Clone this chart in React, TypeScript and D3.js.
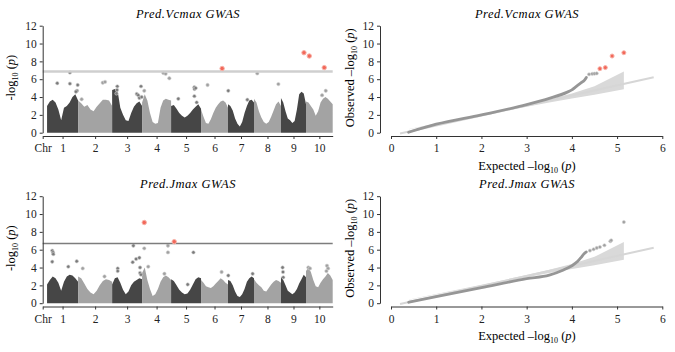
"use client"

import { useEffect, useRef } from "react"
import * as d3 from "d3"

const chromosomes = ["1", "2", "3", "4", "5", "6", "7", "8", "9", "10"]
const chromLength = [228, 250, 220, 213, 220, 198, 191, 198, 184, 196]
const chromOffset = 32

// top of the dense SNP cloud, 12 evenly spaced readings per chromosome
const vcmaxCloud = [
  [3.0, 3.5, 3.7, 3.4, 2.6, 1.4, 2.8, 3.0, 3.4, 4.0, 4.3, 3.6],
  [3.6, 3.3, 2.9, 3.1, 2.6, 2.4, 2.9, 3.3, 3.7, 3.7, 3.6, 3.0],
  [4.8, 4.9, 4.7, 2.8, 2.0, 1.4, 1.3, 2.2, 2.9, 3.3, 3.5, 3.0],
  [3.4, 4.3, 3.6, 2.2, 1.2, 1.0, 1.1, 2.8, 3.6, 3.8, 3.7, 3.6],
  [3.0, 3.1, 2.7, 2.2, 1.9, 1.7, 1.9, 2.2, 2.6, 2.9, 3.2, 2.7],
  [2.6, 1.8, 1.1, 1.0, 1.5, 2.2, 2.8, 3.2, 3.5, 3.6, 3.4, 2.8],
  [3.2, 3.0, 2.5, 1.6, 1.0, 0.7, 1.2, 2.2, 3.0, 3.6, 3.7, 3.4],
  [3.8, 3.4, 2.4, 1.7, 1.2, 1.0, 1.2, 1.8, 2.5, 3.2, 3.5, 3.0],
  [3.9, 3.4, 2.4, 1.6, 1.4, 1.1, 1.3, 2.6, 4.3, 4.6, 4.4, 3.2],
  [3.5, 3.4, 3.0, 2.6, 1.9, 2.4, 3.4, 3.8, 4.0, 3.8, 3.5, 3.2],
]

const jmaxCloud = [
  [2.1, 2.6, 3.0, 2.8, 2.3, 1.4, 2.4, 3.0, 3.2, 3.1, 2.8, 2.4],
  [3.0, 2.8, 2.2, 1.6, 1.2, 1.0, 1.4, 2.0, 2.5, 2.7, 2.6, 2.4],
  [2.1, 2.8, 2.9, 2.3, 1.5, 1.0, 1.3, 2.0, 2.4, 2.6, 2.8, 2.7],
  [3.4, 4.0, 2.6, 1.6, 0.8, 1.0, 1.6, 2.4, 2.9, 3.1, 2.9, 2.6],
  [2.7, 2.5, 2.0, 1.5, 1.2, 1.0, 1.1, 1.5, 2.1, 2.7, 2.9, 2.8],
  [2.6, 2.3, 1.9, 1.8, 1.7, 1.9, 2.2, 2.5, 2.8, 2.6, 2.3, 2.1],
  [2.6, 2.5, 2.0, 1.3, 0.8, 0.7, 1.0, 1.6, 2.4, 2.8, 3.0, 2.8],
  [2.7, 2.3, 2.0, 1.8, 1.4, 1.3, 1.7, 2.1, 2.4, 2.6, 2.5, 2.3],
  [3.0, 2.6, 2.0, 1.4, 1.2, 1.0, 1.2, 1.6, 2.2, 2.7, 3.2, 2.9],
  [3.6, 4.0, 3.5, 2.6, 1.9, 1.8, 2.3, 2.7, 3.0, 3.4, 3.1, 2.6],
]

// [chromosome, position (Mb), -log10 p]
const vcmaxPoints = [
  [1, 75, 5.55], [1, 168, 6.75], [1, 168, 5.5], [1, 225, 5.35], [1, 220, 4.7], [1, 212, 4.6],
  [2, 26, 3.75], [2, 181, 5.6], [2, 198, 5.7],
  [3, 38, 5.2], [3, 36, 4.8], [3, 32, 4.4], [3, 181, 4.35], [3, 192, 4.2], [3, 200, 3.9], [3, 212, 5.2], [3, 217, 4.0],
  [4, 16, 4.7], [4, 156, 6.7], [4, 173, 6.6], [4, 200, 6.1],
  [5, 53, 3.8], [5, 171, 5.1], [5, 172, 4.9], [5, 181, 5.0], [5, 171, 4.1], [5, 188, 3.4],
  [6, 48, 5.35],
  [7, 2, 4.7], [7, 142, 3.7],
  [8, 24, 6.65], [8, 179, 5.45],
  [10, 145, 4.7], [10, 118, 4.2],
]
const vcmaxHits = [[6, 155, 7.2], [9, 169, 8.97], [10, 24, 8.6], [10, 134, 7.3]]

const jmaxPoints = [
  [1, 38, 5.9], [1, 44, 5.7], [1, 46, 5.5], [1, 38, 4.65], [1, 156, 4.1], [1, 218, 4.7],
  [2, 34, 3.9], [2, 194, 3.0],
  [3, 41, 3.9], [3, 41, 3.6], [3, 156, 6.45], [3, 151, 4.6], [3, 176, 4.95], [3, 200, 5.1], [3, 205, 4.0], [3, 205, 3.4], [3, 212, 3.2],
  [4, 16, 6.15], [4, 45, 4.1], [4, 190, 6.45], [4, 190, 5.7], [4, 164, 3.3],
  [5, 164, 5.7], [5, 122, 2.1],
  [6, 151, 3.5],
  [7, 2, 3.1], [7, 181, 3.3],
  [9, 12, 4.0], [9, 15, 3.5], [9, 17, 2.9],
  [10, 17, 4.0], [10, 29, 3.9], [10, 154, 4.2], [10, 162, 3.9], [10, 150, 3.6],
]
const jmaxHits = [[4, 16, 9.05], [5, 23, 6.9]]

const vcmaxThreshold = 6.85
const jmaxThreshold = 6.7

// QQ plots: [expected, observed]
const qqLine = [[0.2, -0.1], [5.81, 6.22]]
const bandExpected = [0.4, 1, 2, 3, 3.5, 4, 4.5, 5.15]
const bandLower = [0.38, 0.97, 1.95, 2.92, 3.38, 3.83, 4.25, 4.87]
const bandUpper = [0.42, 1.04, 2.08, 3.15, 3.75, 4.4, 5.2, 6.85]

const vcmaxTrail = [[0.39, 0.05], [1, 0.95], [2, 2.0], [3, 3.15], [3.5, 3.85], [3.9, 4.55], [4.0, 4.8], [4.1, 5.2], [4.2, 5.6], [4.28, 5.9], [4.32, 6.2]]
const vcmaxTail = [[4.38, 6.55], [4.45, 6.6], [4.5, 6.62], [4.55, 6.65]]
const vcmaxTailHits = [[4.62, 7.18], [4.74, 7.3], [4.89, 8.6], [5.15, 8.97]]

const jmaxTrail = [[0.39, 0.1], [1, 0.75], [2, 1.75], [3, 2.75], [3.5, 3.15], [3.8, 3.7], [4.0, 4.2], [4.13, 4.7], [4.2, 5.1], [4.27, 5.55], [4.32, 5.75]]
const jmaxTail = [[4.4, 5.9], [4.48, 6.05], [4.55, 6.2], [4.62, 6.3], [4.72, 6.5], [4.85, 6.95], [4.87, 7.05], [5.15, 9.1]]
const jmaxTailHits = []

const FONT = "Liberation Serif"
const DARK = "#464646"
const LIGHT = "#a3a3a3"
const RED = "#f2685a"

function addLogLabel(text, prefix) {
  text.append("tspan").text(prefix + "log")
  text.append("tspan").attr("font-size", "8px").attr("dy", 3).text("10")
  text.append("tspan").attr("dy", -3).text(" (")
  text.append("tspan").attr("font-style", "italic").text("p")
  text.append("tspan").text(")")
}

function styleAxis(g) {
  g.attr("font-family", FONT).attr("font-size", 11)
  g.selectAll("path").attr("stroke", "#333")
  g.selectAll("line").attr("stroke", "#333")
  g.selectAll("text").attr("font-family", FONT).attr("font-size", "11.5px").attr("fill", "#222")
}

function drawTitle(svg, cx, y, title) {
  svg.append("text")
    .attr("x", cx)
    .attr("y", y)
    .attr("text-anchor", "middle")
    .attr("font-family", FONT)
    .attr("font-style", "italic")
    .attr("font-size", "12.5px")
    .attr("letter-spacing", "0.5px")
    .text(title)
}

function drawManhattan(svg, top, title, cloud, points, hits, threshold, lineColor, lineWidth) {
  const total = chromOffset + d3.sum(chromLength)
  const starts = chromLength.map((_, i) => chromOffset + d3.sum(chromLength.slice(0, i)))
  const x = d3.scaleLinear().domain([0, total]).range([42.7, 332.7])
  const y = d3.scaleLinear().domain([0, 12]).range([top + 107, top])
  const g = svg.append("g")

  const area = d3.area()
    .x((d) => x(d[0]))
    .y0(y(0))
    .y1((d) => y(d[1]))

  cloud.forEach((vals, i) => {
    const pts = vals.map((v, j) => [starts[i] + (j / (vals.length - 1)) * chromLength[i], v])
    g.append("path")
      .attr("d", area(pts))
      .attr("fill", i % 2 === 0 ? DARK : LIGHT)
  })

  g.selectAll(".pt")
    .data(points)
    .enter()
    .append("circle")
    .attr("cx", (d) => x(starts[d[0] - 1] + d[1]))
    .attr("cy", (d) => y(d[2]))
    .attr("r", 1.7)
    .attr("fill", (d) => (d[0] % 2 === 1 ? "#7a7a7a" : "#a0a0a0"))
    .attr("stroke", "#d0d0d0")
    .attr("stroke-width", 0.6)

  g.append("line")
    .attr("x1", x(0))
    .attr("x2", x(total))
    .attr("y1", y(threshold))
    .attr("y2", y(threshold))
    .attr("stroke", lineColor)
    .attr("stroke-width", lineWidth)

  g.selectAll(".hit")
    .data(hits)
    .enter()
    .append("circle")
    .attr("cx", (d) => x(starts[d[0] - 1] + d[1]))
    .attr("cy", (d) => y(d[2]))
    .attr("r", 2.2)
    .attr("fill", RED)
    .attr("stroke", "#f8b2a8")
    .attr("stroke-width", 1)

  const centers = starts.map((s, i) => s + chromLength[i] / 2)
  const xAxis = g.append("g")
    .attr("transform", `translate(0,${y(0) + 3.3})`)
    .call(
      d3.axisBottom(x)
        .tickValues([0, ...centers])
        .tickFormat((d, i) => (i === 0 ? "Chr" : chromosomes[i - 1]))
        .tickSize(3)
        .tickSizeOuter(0)
        .tickPadding(5)
    )
  styleAxis(xAxis)

  const yAxis = g.append("g")
    .attr("transform", "translate(42.7,0)")
    .call(d3.axisLeft(y).tickValues(d3.range(0, 13, 2)).tickFormat(d3.format("d")).tickSize(3).tickSizeOuter(0).tickPadding(3))
  styleAxis(yAxis)

  const label = svg.append("text")
    .attr("transform", `translate(15,${top + 52}) rotate(-90)`)
    .attr("text-anchor", "middle")
    .attr("font-family", FONT)
    .attr("font-size", "12.5px")
  addLogLabel(label, "-")

  drawTitle(svg, 188, top - 8, title)
}

function drawQQ(svg, top, title, trail, tail, tailHits) {
  const x = d3.scaleLinear().domain([0, 6]).range([391, 662.3])
  const y = d3.scaleLinear().domain([0, 12]).range([top + 107, top])
  const g = svg.append("g")

  const band = bandExpected.map((e, i) => [e, bandLower[i], bandUpper[i]])
  g.append("path")
    .attr("d", d3.area().x((d) => x(d[0])).y0((d) => y(d[1])).y1((d) => y(d[2]))(band))
    .attr("fill", "#d9d9d9")

  g.append("path")
    .attr("d", d3.line().x((d) => x(d[0])).y((d) => y(d[1]))(qqLine))
    .attr("stroke", "#d6d6d6")
    .attr("stroke-width", 2)
    .attr("fill", "none")

  g.append("path")
    .attr("d", d3.line().x((d) => x(d[0])).y((d) => y(d[1])).curve(d3.curveMonotoneX)(trail))
    .attr("stroke", "#969696")
    .attr("stroke-width", 2.8)
    .attr("stroke-linecap", "round")
    .attr("fill", "none")

  g.selectAll(".tail")
    .data(tail)
    .enter()
    .append("circle")
    .attr("cx", (d) => x(d[0]))
    .attr("cy", (d) => y(d[1]))
    .attr("r", 1.6)
    .attr("fill", "#a0a0a0")
    .attr("stroke", "#d0d0d0")
    .attr("stroke-width", 0.6)

  g.selectAll(".tailhit")
    .data(tailHits)
    .enter()
    .append("circle")
    .attr("cx", (d) => x(d[0]))
    .attr("cy", (d) => y(d[1]))
    .attr("r", 2)
    .attr("fill", RED)
    .attr("stroke", "#f8b2a8")
    .attr("stroke-width", 1)

  const xAxis = g.append("g")
    .attr("transform", `translate(0,${y(0) + 3.3})`)
    .call(d3.axisBottom(x).tickValues(d3.range(0, 7)).tickFormat(d3.format("d")).tickSize(3).tickSizeOuter(0).tickPadding(5))
  styleAxis(xAxis)

  const yAxis = g.append("g")
    .attr("transform", "translate(380,0)")
    .call(d3.axisLeft(y).tickValues(d3.range(0, 13, 2)).tickFormat(d3.format("d")).tickSize(3).tickSizeOuter(0).tickPadding(3))
  styleAxis(yAxis)

  const ylab = svg.append("text")
    .attr("transform", `translate(354,${top + 52}) rotate(-90)`)
    .attr("text-anchor", "middle")
    .attr("font-family", FONT)
    .attr("font-size", "12.5px")
  addLogLabel(ylab, "Observed –")

  const xlab = svg.append("text")
    .attr("x", 527)
    .attr("y", top + 144)
    .attr("text-anchor", "middle")
    .attr("font-family", FONT)
    .attr("font-size", "12.5px")
  addLogLabel(xlab, "Expected –")

  drawTitle(svg, 527, top - 8, title)
}

export default function App() {
  const svgRef = useRef(null)

  useEffect(() => {
    if (!svgRef.current) return
    document.body.style.margin = "0"
    const svg = d3.select(svgRef.current)
    svg.selectAll("*").remove()

    drawManhattan(svg, 25.7, "Pred.Vcmax GWAS", vcmaxCloud, vcmaxPoints, vcmaxHits, vcmaxThreshold, "#cfcfcf", 2.5)
    drawManhattan(svg, 196.2, "Pred.Jmax GWAS", jmaxCloud, jmaxPoints, jmaxHits, jmaxThreshold, "#7d7d7d", 1.5)
    drawQQ(svg, 25.7, "Pred.Vcmax GWAS", vcmaxTrail, vcmaxTail, vcmaxTailHits)
    drawQQ(svg, 196.2, "Pred.Jmax GWAS", jmaxTrail, jmaxTail, jmaxTailHits)
  }, [])

  return (
    <svg ref={svgRef} width={675} height={352} viewBox="0 0 675 352" style={{ display: "block", background: "#fff" }}></svg>
  )
}
